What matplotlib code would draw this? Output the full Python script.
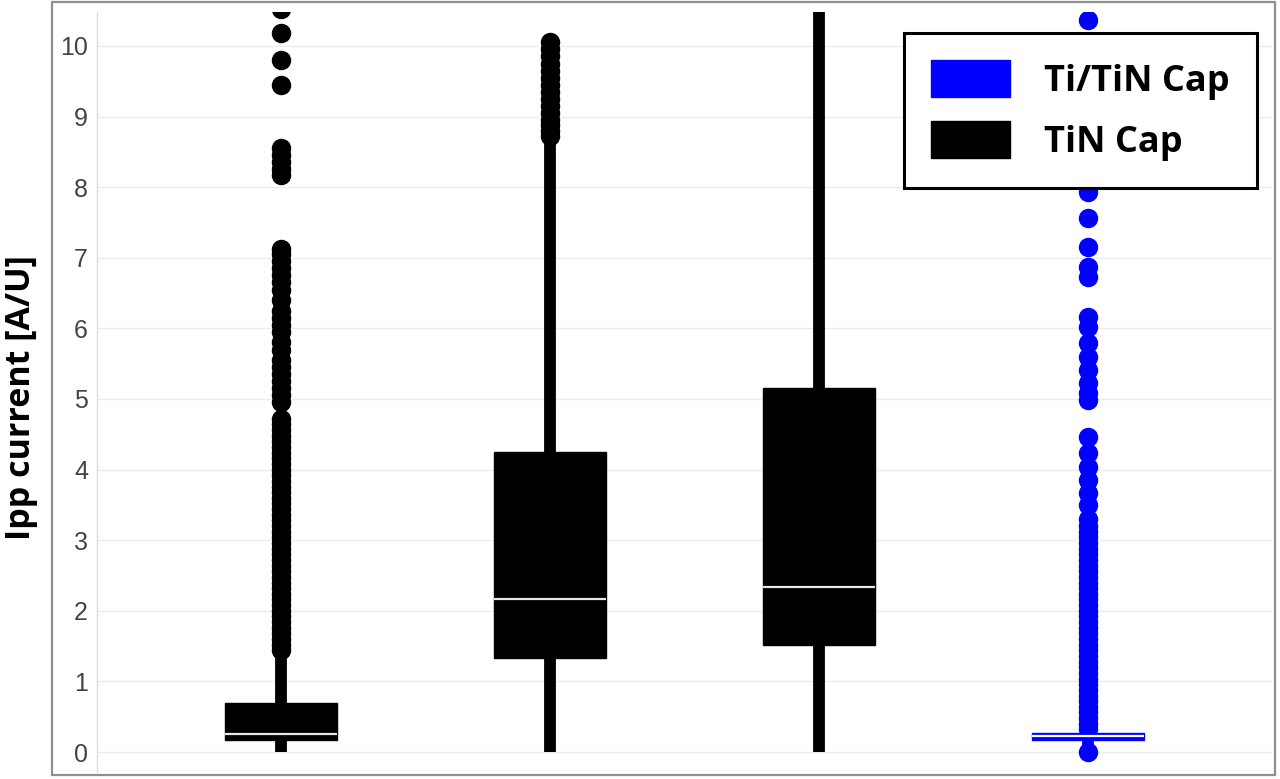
import numpy as np
import matplotlib
matplotlib.use("Agg")
import matplotlib.pyplot as plt
from matplotlib.patches import Patch, Rectangle

# ---------------- data ----------------
labels = ["TiN Cap A", "TiN Cap B", "TiN Cap C", "Ti/TiN Cap"]
q1 = [0.17, 1.33, 1.52, 0.17]
med = [0.25, 2.17, 2.34, 0.22]
q3 = [0.69, 4.25, 5.16, 0.27]
whislo = [0.0, 0.0, 0.0, 0.10]
whishi = [1.38, 8.65, 10.9, 0.30]

fliers_1 = [1.45, 1.52, 1.60, 1.68, 1.76, 1.84, 1.92, 2.00, 2.08, 2.16, 2.24, 2.32,
            2.40, 2.48, 2.56, 2.64, 2.72, 2.80, 2.88, 2.96, 3.04, 3.12, 3.20, 3.28,
            3.36, 3.44, 3.52, 3.60, 3.68, 3.76, 3.84, 3.92, 4.00, 4.08, 4.16, 4.24,
            4.32, 4.40, 4.48, 4.56, 4.64, 4.72, 4.95, 5.05, 5.15, 5.25, 5.35, 5.45,
            5.55, 5.70, 5.80, 5.95, 6.05, 6.15, 6.25, 6.40, 6.55, 6.65, 6.75, 6.85,
            6.95, 7.05, 7.12, 8.17, 8.25, 8.35, 8.45, 8.55, 9.45, 9.80, 10.18, 10.52]
fliers_2 = [8.72, 8.80, 8.88, 8.95, 9.05, 9.15, 9.25, 9.35, 9.45, 9.55, 9.65, 9.75,
            9.85, 9.95, 10.05]
fliers_3 = []
fliers_4 = [0.00, 0.32, 0.40, 0.48, 0.56, 0.64, 0.72, 0.80, 0.88, 0.96, 1.04, 1.12,
            1.20, 1.28, 1.36, 1.44, 1.52, 1.60, 1.68, 1.76, 1.84, 1.92, 2.00, 2.08,
            2.16, 2.24, 2.32, 2.40, 2.48, 2.56, 2.64, 2.72, 2.80, 2.88, 2.96, 3.04,
            3.12, 3.20, 3.30, 3.50, 3.67, 3.85, 4.04, 4.23, 4.46, 4.99, 5.08, 5.23,
            5.41, 5.60, 5.79, 6.02, 6.16, 6.73, 6.87, 7.15, 7.56, 7.93, 8.20, 8.60,
            9.00, 9.50, 10.37]
fliers = [fliers_1, fliers_2, fliers_3, fliers_4]
colors = ["black", "black", "black", "blue"]

yticks = [0, 1, 2, 3, 4, 5, 6, 7, 8, 9, 10]
ylabel = "Ipp current [A/U]"
legend_labels = ["Ti/TiN Cap", "TiN Cap"]
legend_colors = ["blue", "black"]

# ---------------- figure ----------------
W, H = 1280, 779
fig = plt.figure(figsize=(W / 100, H / 100), dpi=100)

ax_l, ax_r, ax_t, ax_b = 97, 1272, 12, 772
ax = fig.add_axes([ax_l / W, (H - ax_b) / H, (ax_r - ax_l) / W, (ax_b - ax_t) / H])

stats = []
for i in range(4):
    stats.append(dict(med=med[i], q1=q1[i], q3=q3[i], whislo=whislo[i],
                      whishi=whishi[i], fliers=np.array(fliers[i]), label=labels[i]))

res = ax.bxp(stats, positions=[1, 2, 3, 4], widths=0.417, patch_artist=True,
             showcaps=False,
             boxprops=dict(linewidth=1),
             whiskerprops=dict(linewidth=8.5, solid_capstyle="butt"),
             medianprops=dict(color="#e6e6e6", linewidth=1.6),
             flierprops=dict(marker="o", markersize=13))

for i in range(4):
    c = colors[i]
    res["boxes"][i].set_facecolor(c)
    res["boxes"][i].set_edgecolor(c)
    res["boxes"][i].set_zorder(3)
    for w in res["whiskers"][2 * i:2 * i + 2]:
        w.set_color(c)
        w.set_zorder(2)
    res["fliers"][i].set_markerfacecolor(c)
    res["fliers"][i].set_markeredgecolor(c)
    res["fliers"][i].set_zorder(2.5)
    res["medians"][i].set_zorder(4)
    if c == "blue":
        res["medians"][i].set_color("white")

ax.set_xlim(0.316, 4.685)
ax.set_ylim(-0.283, 10.48)
ax.set_yticks(yticks)
ax.set_yticklabels([str(t) for t in yticks])
ax.set_xticks([])
ax.tick_params(axis="y", length=0, pad=6.5, labelsize=18, labelcolor="#444444")
for lab in ax.get_yticklabels():
    lab.set_family(["Liberation Sans", "DejaVu Sans"])
ax.grid(axis="y", color="#ececec", linewidth=1)
ax.set_axisbelow(True)
for s in ["top", "right", "bottom"]:
    ax.spines[s].set_visible(False)
ax.spines["left"].set_color("#dcdcdc")
ax.spines["left"].set_linewidth(1)

ax.set_ylabel(ylabel, fontsize=24.5, fontweight="bold",
              family=["Open Sans", "DejaVu Sans"])
ax.yaxis.set_label_coords((38 - ax_l) / (ax_r - ax_l), (ax_b - 398) / (ax_b - ax_t))

handles = [Patch(facecolor=c, edgecolor=c, label=l) for c, l in zip(legend_colors, legend_labels)]
leg = ax.legend(handles=handles, loc="upper right",
                bbox_to_anchor=(1257 / W, (H - 33) / H), bbox_transform=fig.transFigure,
                borderaxespad=0, fancybox=False, framealpha=1, edgecolor="black",
                prop=dict(family=["Open Sans", "DejaVu Sans"], weight="bold", size=26),
                handlelength=2.19, handleheight=1.2, handletextpad=0.95,
                labelspacing=0.6, borderpad=0.75)
leg.get_frame().set_linewidth(2.2)
leg.set_zorder(10)

# outer frame
fig.patches.append(Rectangle((52 / W, (H - 775) / H), (1275 - 52) / W, (775 - 2) / H,
                             transform=fig.transFigure, fill=False,
                             edgecolor="#8f8f8f", linewidth=1.6))

fig.savefig("out.png", dpi=100)
